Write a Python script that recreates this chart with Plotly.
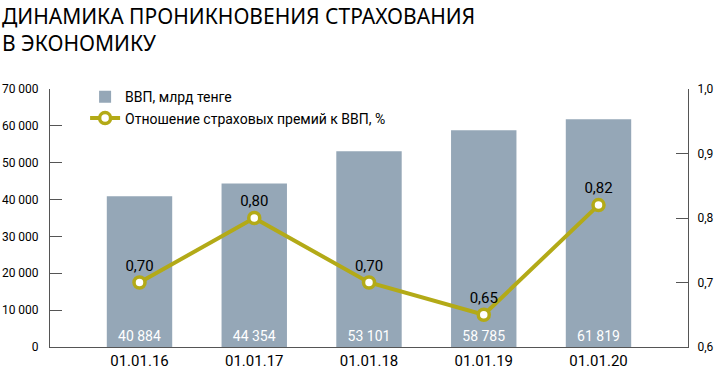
import plotly.graph_objects as go

categories = ["01.01.16", "01.01.17", "01.01.18", "01.01.19", "01.01.20"]
gdp = [40884, 44354, 53101, 58785, 61819]
gdp_labels = ["40 884", "44 354", "53 101", "58 785", "61 819"]
ratio = [0.70, 0.80, 0.70, 0.65, 0.82]
ratio_labels = ["0,70", "0,80", "0,70", "0,65", "0,82"]
left_ticks = [0, 10000, 20000, 30000, 40000, 50000, 60000, 70000]
left_ticktext = ["0", "10 000", "20 000", "30 000", "40 000", "50 000", "60 000", "70 000"]
right_ticks = [0.6, 0.7, 0.8, 0.9, 1.0]
right_ticktext = ["0,6", "0,7", "0,8", "0,9", "1,0"]
title_lines = ["ДИНАМИКА ПРОНИКНОВЕНИЯ СТРАХОВАНИЯ", "В ЭКОНОМИКУ"]

FONT = "Liberation Sans Narrow, Roboto, Liberation Sans, sans-serif"
BAR = "#95A7B7"
LINE = "#B3AA17"

fig = go.Figure()
fig.add_trace(go.Bar(
    x=categories, y=gdp, name="ВВП, млрд тенге",
    marker=dict(color=BAR, line=dict(width=0)),
    width=0.57,
    text=gdp_labels, textposition="inside", insidetextanchor="start",
    textfont=dict(color="white", size=14, family=FONT),
    textangle=0, cliponaxis=False,
))
fig.add_trace(go.Scatter(
    x=categories, y=ratio, name="Отношение страховых премий к ВВП, %",
    yaxis="y2", mode="lines+markers+text",
    line=dict(color=LINE, width=4),
    marker=dict(size=11, color="white", line=dict(color=LINE, width=3.5)),
    text=ratio_labels, textposition="top center",
    textfont=dict(color="black", size=15, family=FONT),
    cliponaxis=False,
))

fig.add_annotation(
    text="<br>".join(title_lines), xref="paper", yref="paper",
    x=-50/638, y=1 + 89/258, xanchor="left", yanchor="top", align="left",
    showarrow=False,
    font=dict(family="Noto Sans, sans-serif", size=21, color="black"),
)

fig.update_layout(
    width=720, height=378,
    margin=dict(l=50, r=32, t=89, b=31, autoexpand=False),
    paper_bgcolor="white", plot_bgcolor="white",
    font=dict(family=FONT, color="black", size=13),
    showlegend=True,
    legend=dict(
        x=0.055, y=1.03, xanchor="left", yanchor="top",
        bgcolor="rgba(0,0,0,0)", font=dict(size=14, family=FONT),
        traceorder="normal", itemwidth=30,
        tracegroupgap=2,
    ),
    xaxis=dict(
        range=[-0.78, 4.78], showgrid=False, showline=True,
        linecolor="#555", linewidth=1, ticks="", automargin=False,
        tickfont=dict(size=15, family=FONT),
    ),
    yaxis=dict(
        range=[0, 70000], tickvals=left_ticks, ticktext=left_ticktext,
        showgrid=False, showline=True, linecolor="#555", linewidth=1,
        ticks="inside", ticklen=12, tickcolor="#555", automargin=False,
        tickfont=dict(size=12, family=FONT), zeroline=False,
        ticklabelstandoff=8,
    ),
    yaxis2=dict(
        range=[0.6, 1.0], tickvals=right_ticks, ticktext=right_ticktext,
        overlaying="y", side="right", showgrid=False, showline=True,
        linecolor="#555", linewidth=1, ticks="inside", ticklen=12,
        tickcolor="#555", tickfont=dict(size=12, family=FONT), zeroline=False,
        automargin=False, ticklabelstandoff=6,
    ),
    bargap=0.43,
)

fig.write_html("out.html", config={"displayModeBar": False},
               post_script="document.body.style.margin='0';")
